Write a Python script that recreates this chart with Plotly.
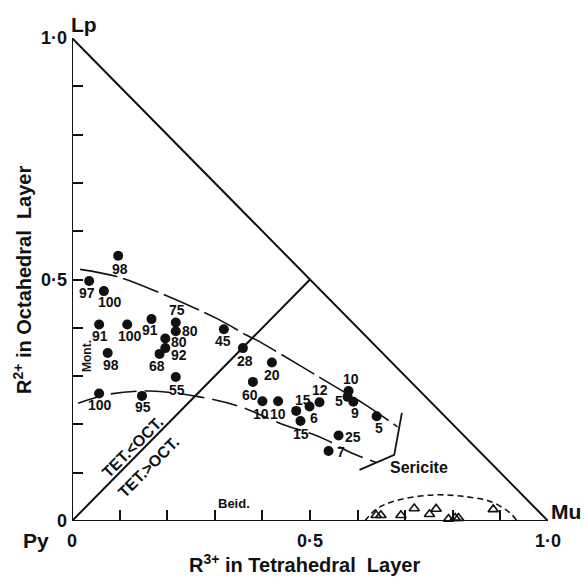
import plotly.graph_objects as go

# ---- data ----
tet_r3 = [0.097, 0.036, 0.067, 0.057, 0.116, 0.167, 0.218, 0.218, 0.196, 0.196,
          0.184, 0.075, 0.319, 0.359, 0.218, 0.057, 0.147, 0.420, 0.380, 0.400,
          0.433, 0.471, 0.480, 0.499, 0.520, 0.581, 0.579, 0.591, 0.640, 0.560, 0.539]
oct_r2 = [0.549, 0.497, 0.476, 0.407, 0.407, 0.418, 0.411, 0.393, 0.378, 0.358,
          0.346, 0.348, 0.397, 0.358, 0.298, 0.264, 0.259, 0.328, 0.288, 0.248,
          0.248, 0.228, 0.207, 0.237, 0.246, 0.269, 0.257, 0.247, 0.217, 0.177, 0.145]
pct_labels = ["98", "97", "100", "91", "100", "91", "75", "80", "80", "92",
              "68", "98", "45", "28", "55", "100", "95", "20", "60", "10",
              "10", "15", "15", "6", "12", "10", "5", "9", "5", "25", "7"]

mu_tet = [0.639, 0.649, 0.691, 0.719, 0.751, 0.765, 0.791, 0.805, 0.812, 0.885]
mu_oct = [0.012, 0.012, 0.012, 0.026, 0.014, 0.025, 0.004, 0.006, 0.006, 0.024]

upper_x = [0.017, 0.094, 0.178, 0.307, 0.366, 0.387, 0.558, 0.611, 0.684]
upper_y = [0.521, 0.506, 0.475, 0.418, 0.385, 0.375, 0.275, 0.244, 0.195]
lower_x = [0.013, 0.080, 0.164, 0.268, 0.352, 0.443, 0.502, 0.534, 0.583, 0.639]
lower_y = [0.244, 0.263, 0.269, 0.257, 0.237, 0.200, 0.181, 0.168, 0.143, 0.121]
sericite_x = [0.693, 0.677, 0.604]
sericite_y = [0.224, 0.137, 0.106]
arc_x = [0.615, 0.640, 0.680, 0.760, 0.830, 0.880, 0.920, 0.935]
arc_y = [0.000, 0.025, 0.042, 0.054, 0.050, 0.040, 0.017, 0.000]
tri_x = [0, 1, 0, 0]
tri_y = [0, 0, 1, 0]
diag_x = [0, 0.5]
diag_y = [0, 0.5]

tick_vals = [i / 10 for i in range(11)]
tick_text = ["<b>0</b>", " ", " ", " ", " ", "<b>0·5</b>", " ", " ", " ", " ", "<b>1·0</b>"]

# ---- label pixel offsets (style) ----
label_dx = [2, -2, 6, 1, 3, -1, 1, 14, 14, 14, -3, 3, -1, 2, 1, 1, 1, 0, -3, -1,
            0, 7, 1, 4, 0, 2, -9, 2, 2, 14, 12]
label_dy = [13, 12, 11, 12, 12, 11, -12, 0, 4, 7, 12, 12, 12, 13, 13, 12, 11, 12, 13, 13,
            13, -11, 13, 11, -12, -12, 4, 11, 12, 1, 1]

FONT = "Liberation Sans"
BLACK = "#111111"

fig = go.Figure()

fig.add_trace(go.Scatter(x=tri_x, y=tri_y, mode="lines",
                         line=dict(color=BLACK, width=2), cliponaxis=False, hoverinfo="skip"))
fig.add_trace(go.Scatter(x=diag_x, y=diag_y, mode="lines",
                         line=dict(color=BLACK, width=2), cliponaxis=False, hoverinfo="skip"))
fig.add_trace(go.Scatter(x=upper_x, y=upper_y, mode="lines",
                         line=dict(color=BLACK, width=1.6, dash="38px,6px", shape="spline"),
                         cliponaxis=False))
fig.add_trace(go.Scatter(x=lower_x, y=lower_y, mode="lines",
                         line=dict(color=BLACK, width=1.6, dash="26px,8px", shape="spline"),
                         cliponaxis=False))
fig.add_trace(go.Scatter(x=sericite_x, y=sericite_y, mode="lines",
                         line=dict(color=BLACK, width=1.8), cliponaxis=False))
fig.add_trace(go.Scatter(x=arc_x, y=arc_y, mode="lines",
                         line=dict(color=BLACK, width=1.6, dash="6px,4px", shape="spline"),
                         cliponaxis=False))
fig.add_trace(go.Scatter(x=tet_r3, y=oct_r2, mode="markers",
                         marker=dict(symbol="circle", size=10, color=BLACK),
                         cliponaxis=False))
fig.add_trace(go.Scatter(x=mu_tet, y=mu_oct, mode="markers",
                         marker=dict(symbol="triangle-up-open", size=9,
                                     color=BLACK, line=dict(width=1.6, color=BLACK)),
                         cliponaxis=False))

ann = []
for x, y, t, dx, dy in zip(tet_r3, oct_r2, pct_labels, label_dx, label_dy):
    ann.append(dict(x=x, y=y, xref="x", yref="y", text="<b>" + t + "</b>", showarrow=False,
                    xshift=dx, yshift=-dy, xanchor="center", yanchor="middle",
                    font=dict(family=FONT, size=14, color=BLACK)))

# pixel -> paper helper: plot area x 72..548, y 38..521
def px(xp, yp):
    return (xp - 72) / 476, (521 - yp) / 483

for (xp, yp), t, s, a in [
    ((84, 24), "Lp", 21, 0),
    ((566, 511), "Mu", 21, 0),
    ((36, 540), "Py", 21, 0),
    ((304, 563), "R<sup>3+</sup> in Tetrahedral\u00a0\u00a0Layer", 20, 0),
    ((22, 280), "R<sup>2+</sup> in Octahedral\u00a0\u00a0Layer", 20, -90),
    ((87, 356), "Mont.", 12, -90),
    ((234, 503), "Beid.", 13, 0),
    ((419, 467), "Sericite", 16, 0),
    ((132, 447), "TET.&lt;OCT.", 16, -45),
    ((148, 467), "TET.&gt;OCT.", 16, -45),
]:
    x, y = px(xp, yp)
    ann.append(dict(x=x, y=y, xref="paper", yref="paper", text="<b>" + t + "</b>",
                    showarrow=False, textangle=a, xanchor="center", yanchor="middle",
                    font=dict(family=FONT, size=s, color=BLACK)))

axis_common = dict(range=[0, 1], showgrid=False, zeroline=False, showline=False,
                   ticks="inside", ticklen=11, tickwidth=2, tickcolor=BLACK,
                   tickvals=tick_vals, ticktext=tick_text,
                   tickfont=dict(family=FONT, size=18, color=BLACK),
                   fixedrange=True)

fig.update_layout(
    width=585, height=579,
    margin=dict(l=72, r=37, t=38, b=58),
    paper_bgcolor="white", plot_bgcolor="white",
    showlegend=False,
    xaxis=dict(**axis_common, ticklabelstandoff=7),
    yaxis=dict(**axis_common, ticklabelstandoff=4),
    annotations=ann,
)

fig.write_html("out.html")
